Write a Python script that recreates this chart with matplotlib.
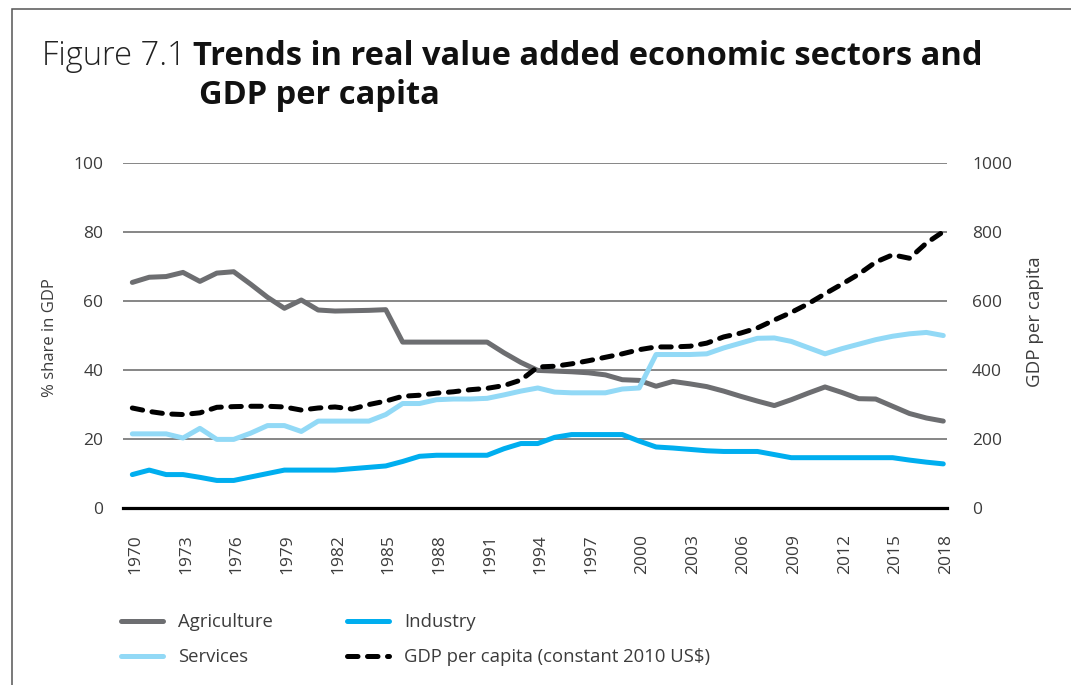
import matplotlib
matplotlib.use("Agg")
import matplotlib.pyplot as plt
from matplotlib.patches import Rectangle
from matplotlib.transforms import ScaledTranslation

plt.rcParams['font.family'] = ['Open Sans', 'Lato', 'DejaVu Sans']

# value added shares (% of GDP) and GDP per capita, 1970-2018
years = list(range(1970, 2019))
agriculture = [65.3, 66.8, 67.0, 68.2, 65.6, 68.0, 68.4, 64.8, 61.0, 57.8,
               60.2, 57.3, 57.0, 57.1, 57.2, 57.4, 48.0, 48.0, 48.0, 48.0,
               48.0, 48.0, 44.9, 42.1, 39.8, 39.6, 39.4, 39.1, 38.5, 37.1,
               36.9, 35.2, 36.6, 35.9, 35.1, 33.8, 32.3, 30.9, 29.6, 31.3,
               33.2, 35.0, 33.4, 31.6, 31.5, 29.4, 27.3, 26.0, 25.1]
services = [21.4, 21.4, 21.4, 20.2, 23.0, 19.8, 19.8, 21.6, 23.8, 23.8,
            22.1, 25.1, 25.1, 25.1, 25.1, 27.0, 30.2, 30.2, 31.3, 31.5,
            31.5, 31.7, 32.7, 33.8, 34.7, 33.5, 33.3, 33.3, 33.3, 34.4,
            34.7, 44.4, 44.4, 44.4, 44.6, 46.3, 47.7, 49.1, 49.2, 48.2,
            46.4, 44.6, 46.1, 47.4, 48.7, 49.7, 50.4, 50.8, 49.9]
industry = [9.6, 10.9, 9.6, 9.6, 8.8, 7.9, 7.9, 8.9, 9.9, 10.9,
            10.9, 10.9, 10.9, 11.3, 11.7, 12.1, 13.4, 14.9, 15.2, 15.2,
            15.2, 15.2, 17.1, 18.6, 18.6, 20.4, 21.2, 21.2, 21.2, 21.2,
            19.3, 17.6, 17.3, 16.9, 16.5, 16.3, 16.3, 16.3, 15.4, 14.5,
            14.5, 14.5, 14.5, 14.5, 14.5, 14.5, 13.8, 13.2, 12.7]
gdp_pc = [289, 279, 272, 270, 275, 291, 293, 294, 294, 292,
          283, 289, 292, 286, 299, 309, 323, 326, 332, 336,
          342, 346, 354, 370, 408, 410, 417, 426, 436, 446,
          458, 466, 466, 468, 477, 495, 506, 521, 544, 566,
          591, 620, 648, 677, 712, 733, 723, 767, 800]

tick_years = [1970, 1973, 1976, 1979, 1982, 1985, 1988, 1991, 1994, 1997,
              2000, 2003, 2006, 2009, 2012, 2015, 2018]
left_ticks = [0, 20, 40, 60, 80, 100]
right_ticks = [0, 200, 400, 600, 800, 1000]

c_agri = '#6d6e71'
c_serv = '#92d9f6'
c_ind = '#00aeef'
c_text = '#3c3c3c'

W, H = 1071, 685
fig = plt.figure(figsize=(W / 100, H / 100), dpi=100)

# thin frame around the figure (runs off the right and bottom edges)
fig.patches.append(Rectangle((11.5 / W, -0.2), 2, 1.2 - 9.3 / H,
                             transform=fig.transFigure, fill=False,
                             edgecolor='#555555', linewidth=1.1))

ax = fig.add_axes([122.7 / W, 1 - 507.7 / H, (947 - 122.7) / W, (507.7 - 162.7) / H])
ax2 = ax.twinx()

lw = 3.6
ax.plot(years, agriculture, color=c_agri, lw=lw, solid_capstyle='round',
        solid_joinstyle='round', label='Agriculture', zorder=3)
ax.plot(years, services, color=c_serv, lw=lw, solid_capstyle='round',
        solid_joinstyle='round', label='Services', zorder=3)
ax.plot(years, industry, color=c_ind, lw=lw, solid_capstyle='round',
        solid_joinstyle='round', label='Industry', zorder=3)
ax2.plot(years, gdp_pc, color='black', lw=lw, dashes=(2.1, 1.9),
         dash_capstyle='round', label='GDP per capita (constant 2010 US$)')

ax.set_xlim(1969.43, 2018.22)
ax.set_ylim(0, 100)
ax2.set_ylim(0, 1000)

for a in (ax, ax2):
    for s in a.spines.values():
        s.set_visible(False)
    a.tick_params(length=0, labelsize=12.5, labelcolor=c_text)

ax.yaxis.grid(True, color='#666666', linewidth=1.1)
ax.set_axisbelow(True)
ax.spines['bottom'].set_visible(True)
ax.spines['bottom'].set_color('black')
ax.spines['bottom'].set_linewidth(2.3)

ax.set_yticks(left_ticks)
ax.set_yticklabels([str(t) for t in left_ticks])
ax.tick_params(axis='y', pad=14)
ax2.set_yticks(right_ticks)
ax2.set_yticklabels([str(t) for t in right_ticks])
ax2.tick_params(axis='y', pad=18)

ax.set_xticks(tick_years)
ax.set_xticklabels([str(t) for t in tick_years], rotation=90)
ax.tick_params(axis='x', pad=19)
shift = ScaledTranslation(3 / 100, 0, fig.dpi_scale_trans)
for lab in ax.get_xticklabels():
    lab.set_transform(lab.get_transform() + shift)

fig.text(50 / W, 1 - 338 / H, '% share in GDP', rotation=90, ha='center',
         va='center', fontsize=12, color=c_text)
fig.text(1035 / W, 1 - 322 / H, 'GDP per capita', rotation=90, ha='center',
         va='center', fontsize=13.5, color=c_text)

# heading
fig.text(42 / W, 1 - 65 / H, 'Figure 7.1', fontsize=23.5, fontweight='light',
         color='#222222', va='baseline', ha='left')
fig.text(193 / W, 1 - 65 / H, 'Trends in real value added economic sectors and',
         fontsize=23.5, fontweight='bold', color='#111111', va='baseline', ha='left')
fig.text(199 / W, 1 - 104 / H, 'GDP per capita', fontsize=23.5, fontweight='bold',
         color='#111111', va='baseline', ha='left')

# legend, two columns
h_agri, h_serv, h_ind = ax.get_lines()[:3]
h_gdp = ax2.get_lines()[0]
leg_kw = dict(frameon=False, fontsize=13.3, handlelength=2.25, handletextpad=0.83,
              labelspacing=0.92, borderpad=0, borderaxespad=0, loc='upper left',
              labelcolor=c_text)
leg1 = fig.legend([h_agri, h_serv], ['Agriculture', 'Services'],
                  bbox_to_anchor=(121 / W, 1 - 613 / H), **leg_kw)
leg2 = fig.legend([h_ind, h_gdp], ['Industry', 'GDP per capita (constant 2010 US$)'],
                  bbox_to_anchor=(347 / W, 1 - 613 / H), **leg_kw)

fig.savefig('out.png', dpi=100)
